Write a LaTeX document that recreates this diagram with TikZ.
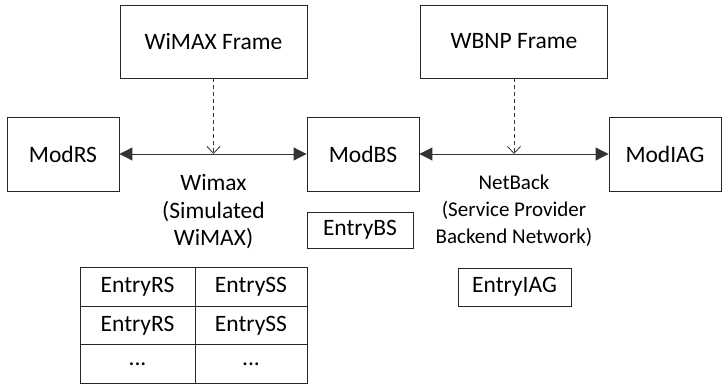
\documentclass[tikz,border=0pt]{standalone}
\usepackage{fontspec}
\setmainfont{Carlito}
\usetikzlibrary{arrows.meta}
\begin{document}
\begin{tikzpicture}[x=1pt,y=-1pt,
  every node/.style={font=\fontsize{23.5}{28}\selectfont, inner sep=0pt},
  blk/.style={draw=black!85, line width=0.9pt, minimum width=#1},
  frame/.style={blk=187pt, minimum height=73pt},
  module/.style={blk=112pt, minimum height=74pt},
  cell/.style={blk=#1, minimum height=38.5pt},
  link/.style={line width=1pt, draw=black!80, {Triangle[length=13pt,width=13pt]}-{Triangle[length=13pt,width=13pt]}},
  feed/.style={line width=0.8pt, draw=black!80, dash pattern=on 4pt off 3pt, -{Straight Barb[length=7pt,width=13pt]}},
  lbl/.style={align=center, font=\fontsize{23.5}{27.5}\selectfont},
  smalllbl/.style={align=center, font=\fontsize{21}{27}\selectfont}]
\useasboundingbox (0,0) rectangle (723,386);

% frame generators
\node[frame] (wimaxframe) at (213.5,41.5) {WiMAX Frame};
\node[frame] (wbnpframe) at (514,41.5) {WBNP Frame};

% modules
\node[module] (modrs) at (63,154) {ModRS};
\node[module] (modbs) at (363,154) {ModBS};
\node[module] (modiag) at (665,154) {ModIAG};

% links between modules
\draw[link] (modrs) -- (modbs);
\draw[link] (modbs) -- (modiag);
\coordinate (wimaxmid) at (213.5,154);
\coordinate (netmid) at (514,154);
\draw[feed] (wimaxframe.south) -- (wimaxmid);
\draw[feed] (wbnpframe.south) -- (netmid);

% link descriptions
\node[lbl] (wimaxlbl) at (213.5,212) {Wimax\\(Simulated\\WiMAX)};
\node[smalllbl] (netlbl) at (514,211) {NetBack\\(Service Provider\\Backend Network)};

% table entries
\node[blk=106pt, minimum height=36pt] (entrybs) at (360,230) {EntryBS};
\node[blk=113pt, minimum height=38pt] (entryiag) at (514.5,287) {EntryIAG};

\node[cell=115pt] (rs1) at (137.5,287) {EntryRS};
\node[cell=112pt] (ss1) at (251,287) {EntrySS};
\node[cell=115pt] (rs2) at (137.5,325.5) {EntryRS};
\node[cell=112pt] (ss2) at (251,325.5) {EntrySS};
\node[cell=115pt] (rs3) at (137.5,364) {...};
\node[cell=112pt] (ss3) at (251,364) {...};
\end{tikzpicture}
\end{document}
